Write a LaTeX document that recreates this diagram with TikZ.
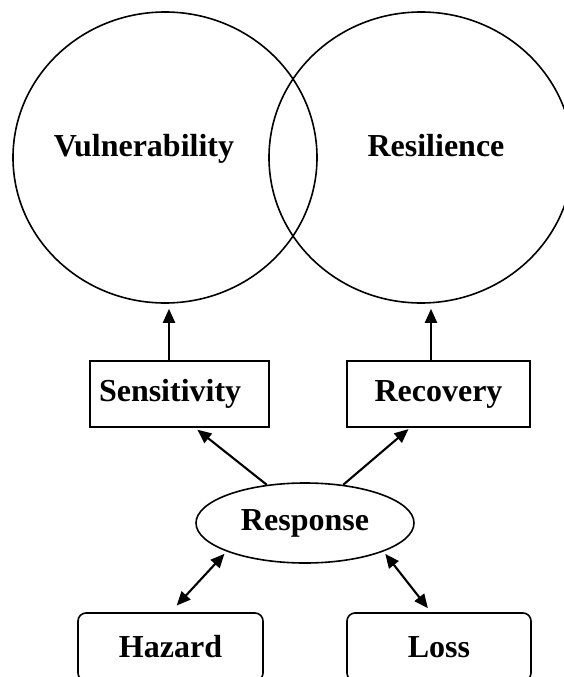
\documentclass[tikz,border=0pt]{standalone}
\usepackage{fontspec}
\setmainfont{Liberation Serif}
\usetikzlibrary{arrows.meta,calc,positioning,shapes.geometric}
\definecolor{RiskInk}{HTML}{000000}

\begin{document}
\begin{tikzpicture}[x=1pt,y=-1pt,
    every node/.style={font=\bfseries\fontsize{32}{37}\selectfont,text=RiskInk},
    ring/.style={draw=RiskInk,ellipse,line width=1.6pt,minimum width=304pt,minimum height=291pt,inner sep=0pt},
    factor/.style={draw=RiskInk,line width=1.6pt,minimum height=66pt,inner xsep=9pt},
    origin/.style={draw=RiskInk,line width=1.6pt,rounded corners=8pt,minimum width=185pt,minimum height=68pt},
    link/.style={-{Triangle[length=14pt,width=12pt]},draw=RiskInk,line width=2.1pt},
    both/.style={{Triangle[length=14pt,width=12pt]}-{Triangle[length=14pt,width=12pt]},draw=RiskInk,line width=2.1pt}]
        \useasboundingbox (0,0) rectangle (564,677);
        \clip (0,0) rectangle (564,677);

        \node[ring] (vulRing) at (165,157.5) {};
        \node[ring] (resRing) at (421,157.5) {};
        \node[anchor=base] (vul) at (144,156) {Vulnerability};
        \node[anchor=base] (res) at (436,156) {Resilience};

        \node[factor,text width=161pt,align=left] (sens) at (179.5,394) {Sensitivity};
        \node[factor,minimum width=183pt] (rec) at (438.5,394) {Recovery};
        \node[draw=RiskInk,ellipse,line width=1.6pt,minimum width=218pt,
          minimum height=80pt,inner sep=0pt] (resp) at (305,523) {Response};
        \node[origin] (haz) at (170.5,647) {Hazard};
        \node[origin,minimum width=184pt] (loss) at (439,647) {Loss};

        \draw[link,shorten >=5pt] ($(sens.north)+(-10.5,0)$) -- ($(sens.north |- vulRing.south)+(-10.5,0)$);
        \draw[link,shorten >=5pt] ($(rec.north)+(-7.5,0)$) -- ($(rec.north |- resRing.south)+(-7.5,0)$);

        \draw[link,shorten >=3pt] (resp.135) -- ($(sens.south)+(15.5,0)$);
        \draw[link,shorten >=2pt] (resp.45) -- ($(rec.south)+(-28.5,0)$);

        \draw[both,shorten <=9pt,shorten >=3pt] (haz.north) -- (resp.200);
        \draw[both,shorten <=3pt,shorten >=5pt] (resp.340) -- ($(loss.north)+(-8,0)$);
      \end{tikzpicture}
\end{document}
